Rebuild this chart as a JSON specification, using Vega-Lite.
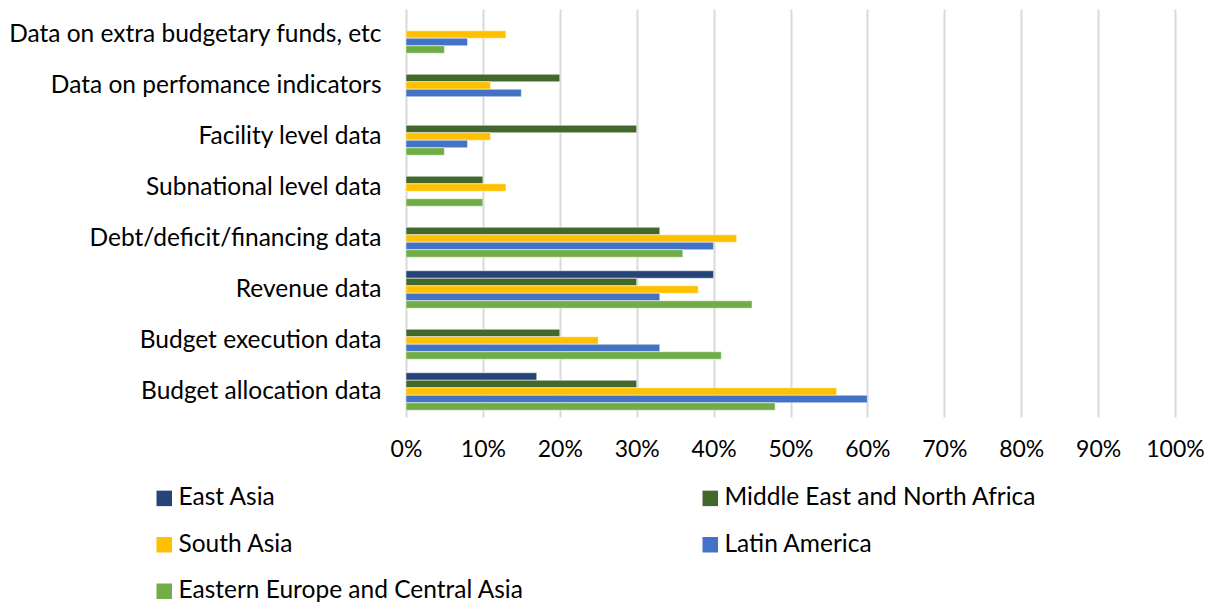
{
  "$schema": "https://vega.github.io/schema/vega-lite/v6.json",
  "width": 769,
  "height": 408,
  "autosize": {"type": "none"},
  "padding": {"left": 406, "top": 9, "right": 40, "bottom": 187},
  "background": "white",
  "config": {
    "view": {"stroke": null},
    "font": "Lato",
    "axis": {"labelFont": "Lato", "labelColor": "#000000"},
    "legend": {"labelFont": "Lato"}
  },
  "data": {
    "values": [
      {"cat": "Data on extra budgetary funds, etc", "region": "South Asia", "v": 0.13},
      {"cat": "Data on extra budgetary funds, etc", "region": "Latin America", "v": 0.08},
      {"cat": "Data on extra budgetary funds, etc", "region": "Eastern Europe and Central Asia", "v": 0.05},
      {"cat": "Data on perfomance indicators", "region": "Middle East and North Africa", "v": 0.20},
      {"cat": "Data on perfomance indicators", "region": "South Asia", "v": 0.11},
      {"cat": "Data on perfomance indicators", "region": "Latin America", "v": 0.15},
      {"cat": "Facility level data", "region": "Middle East and North Africa", "v": 0.30},
      {"cat": "Facility level data", "region": "South Asia", "v": 0.11},
      {"cat": "Facility level data", "region": "Latin America", "v": 0.08},
      {"cat": "Facility level data", "region": "Eastern Europe and Central Asia", "v": 0.05},
      {"cat": "Subnational level data", "region": "Middle East and North Africa", "v": 0.10},
      {"cat": "Subnational level data", "region": "South Asia", "v": 0.13},
      {"cat": "Subnational level data", "region": "Eastern Europe and Central Asia", "v": 0.10},
      {"cat": "Debt/deficit/financing data", "region": "Middle East and North Africa", "v": 0.33},
      {"cat": "Debt/deficit/financing data", "region": "South Asia", "v": 0.43},
      {"cat": "Debt/deficit/financing data", "region": "Latin America", "v": 0.40},
      {"cat": "Debt/deficit/financing data", "region": "Eastern Europe and Central Asia", "v": 0.36},
      {"cat": "Revenue data", "region": "East Asia", "v": 0.40},
      {"cat": "Revenue data", "region": "Middle East and North Africa", "v": 0.30},
      {"cat": "Revenue data", "region": "South Asia", "v": 0.38},
      {"cat": "Revenue data", "region": "Latin America", "v": 0.33},
      {"cat": "Revenue data", "region": "Eastern Europe and Central Asia", "v": 0.45},
      {"cat": "Budget execution data", "region": "Middle East and North Africa", "v": 0.20},
      {"cat": "Budget execution data", "region": "South Asia", "v": 0.25},
      {"cat": "Budget execution data", "region": "Latin America", "v": 0.33},
      {"cat": "Budget execution data", "region": "Eastern Europe and Central Asia", "v": 0.41},
      {"cat": "Budget allocation data", "region": "East Asia", "v": 0.17},
      {"cat": "Budget allocation data", "region": "Middle East and North Africa", "v": 0.30},
      {"cat": "Budget allocation data", "region": "South Asia", "v": 0.56},
      {"cat": "Budget allocation data", "region": "Latin America", "v": 0.60},
      {"cat": "Budget allocation data", "region": "Eastern Europe and Central Asia", "v": 0.48}
    ]
  },
  "mark": {"type": "bar", "stroke": "white", "strokeWidth": 0.5},
  "encoding": {
    "y": {
      "field": "cat",
      "type": "nominal",
      "sort": ["Data on extra budgetary funds, etc", "Data on perfomance indicators", "Facility level data", "Subnational level data", "Debt/deficit/financing data", "Revenue data", "Budget execution data", "Budget allocation data"],
      "scale": {"paddingInner": 0.265, "paddingOuter": 0.1325},
      "axis": {"title": null, "ticks": false, "domain": false, "labelFontSize": 24.5, "labelPadding": 25, "labelLimit": 420}
    },
    "yOffset": {
      "field": "region",
      "type": "nominal",
      "sort": ["East Asia", "Middle East and North Africa", "South Asia", "Latin America", "Eastern Europe and Central Asia"],
      "scale": {"paddingInner": 0, "paddingOuter": 0}
    },
    "x": {
      "field": "v",
      "type": "quantitative",
      "scale": {"domain": [0, 1]},
      "axis": {"title": null, "format": "%", "values": [0, 0.1, 0.2, 0.3, 0.4, 0.5, 0.6, 0.7, 0.8, 0.9, 1], "ticks": false, "domain": false, "grid": true, "gridColor": "#D9D9D9", "gridWidth": 2, "labelFontSize": 23, "labelPadding": 21, "labelFlush": false, "labelOverlap": false}
    },
    "color": {
      "field": "region",
      "type": "nominal",
      "scale": {"domain": ["East Asia", "South Asia", "Eastern Europe and Central Asia", "Middle East and North Africa", "Latin America"], "range": ["#264478", "#FFC000", "#70AD47", "#43682B", "#4472C4"]},
      "legend": {
        "title": null,
        "orient": "none",
        "legendX": -254,
        "legendY": 477,
        "columns": 2,
        "columnPadding": 174,
        "rowPadding": 21.5,
        "symbolType": "square",
        "symbolSize": 240,
        "symbolStrokeWidth": 0,
        "symbolOffset": 0,
        "labelOffset": 2,
        "labelFontSize": 24.5,
        "labelColor": "#000000",
        "labelLimit": 500,
        "padding": 0
      }
    }
  }
}
